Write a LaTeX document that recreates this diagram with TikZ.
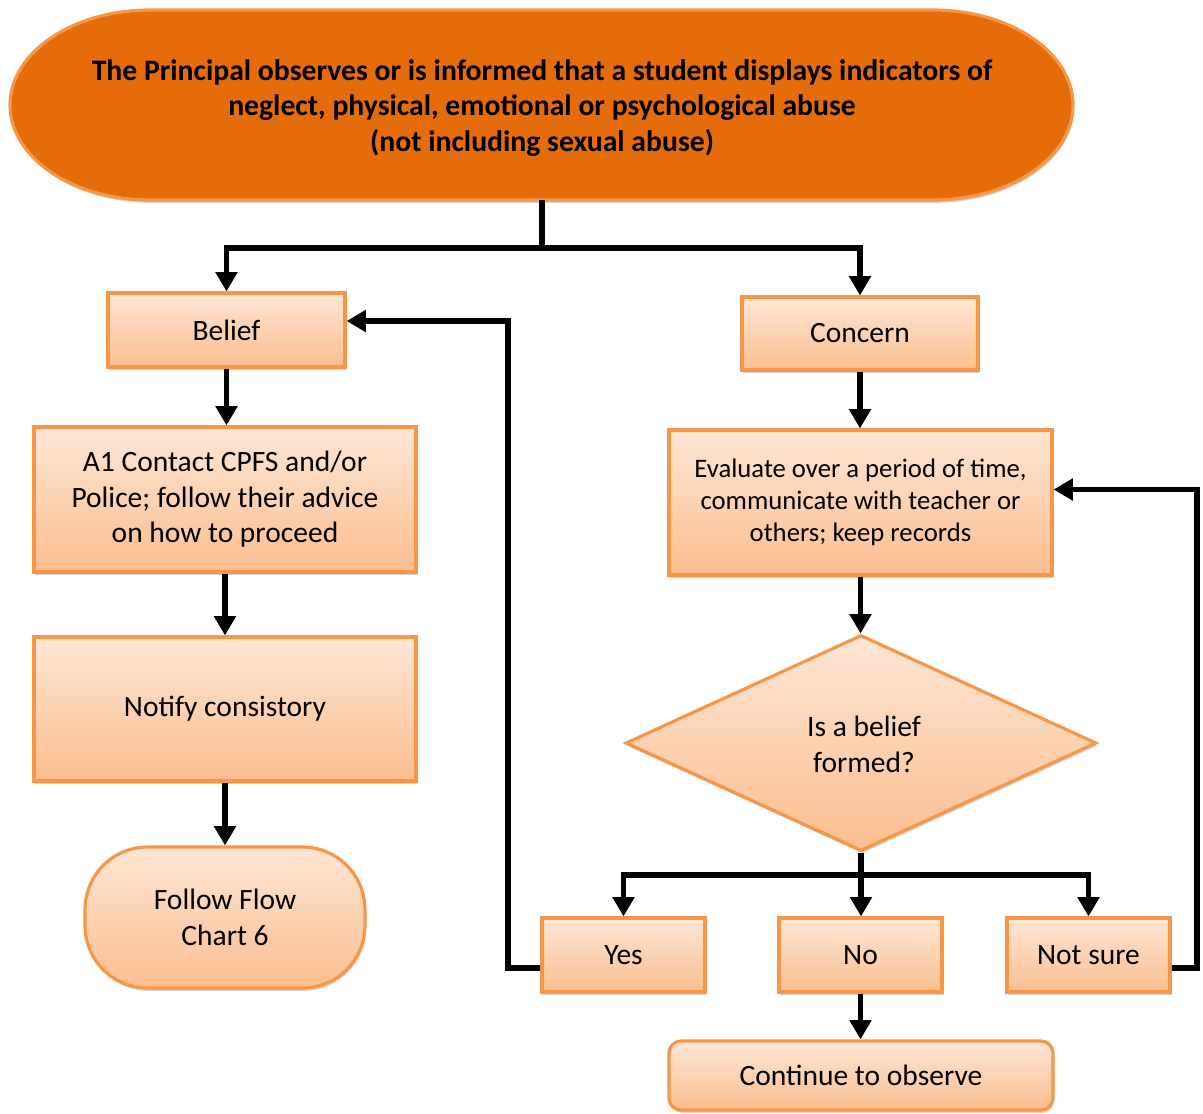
\documentclass[tikz,border=0pt]{standalone}
\usepackage{fontspec}
\setmainfont{Carlito}
\usetikzlibrary{arrows.meta,shapes.geometric,shadows,calc}

\definecolor{termfill}{RGB}{228,108,10}
\definecolor{edgeorange}{RGB}{247,150,70}
\definecolor{lighttop}{RGB}{254,230,213}
\definecolor{lightbot}{RGB}{250,190,143}

\tikzset{
  box/.style={draw=edgeorange, line width=1.8pt, top color=lighttop, bottom color=lightbot,
    align=center, inner sep=2pt, font=\fontsize{16.8}{20.2}\selectfont,
    drop shadow={shadow xshift=0.6pt, shadow yshift=-1.6pt, fill=black, opacity=0.18}},
  wire/.style={draw=black, line width=3.2pt},
  arr/.style={wire, -{Triangle[length=11pt,width=12pt]}},
}

\begin{document}
\begin{tikzpicture}[x=0.02cm, y=-0.02cm]
\useasboundingbox (0,0) rectangle (1203,1113);

% terminator at the top, with elliptical ends
\path[fill=termfill, draw=edgeorange, line width=1.8pt,
      drop shadow={shadow xshift=0.6pt, shadow yshift=-1.6pt, fill=black, opacity=0.18}]
  (150,10) -- (933,10)
  .. controls (1010.3,10) and (1073,52.5) .. (1073,105)
  .. controls (1073,157.5) and (1010.3,200) .. (933,200)
  -- (150,200)
  .. controls (72.7,200) and (10,157.5) .. (10,105)
  .. controls (10,52.5) and (72.7,10) .. cycle;
\node[minimum width=21.26cm, minimum height=3.8cm, inner sep=0pt] (top) at (542,105) {};
\node[align=center, font=\bfseries\fontsize{16.9}{20.4}\selectfont, inner sep=0pt] (toptext) at (542,108)
  {The Principal observes or is informed that a student displays indicators of\\
   neglect, physical, emotional or psychological abuse\\
   (not including sexual abuse)};

% left column
\node[box, minimum width=4.74cm, minimum height=1.48cm] (belief) at (226.5,330) {Belief};
\node[box, minimum width=7.64cm, minimum height=2.9cm] (a1) at (225,499.5)
  {A1 Contact CPFS and/or\\Police; follow their advice\\on how to proceed};
\node[box, minimum width=7.64cm, minimum height=2.88cm] (notify) at (225,709) {Notify consistory};
\node[box, rounded corners=1.25cm, minimum width=5.6cm, minimum height=2.82cm] (follow) at (225,917.5)
  {Follow Flow\\Chart 6};

% right column
\node[box, minimum width=4.72cm, minimum height=1.46cm] (concern) at (860,333.5) {Concern};
\node[box, minimum width=7.66cm, minimum height=2.9cm, font=\fontsize{15.2}{18.4}\selectfont] (evaluate) at (860.5,502.5)
  {Evaluate over a period of time,\\communicate with teacher or\\others; keep records};
\node[box, diamond, inner sep=0pt, minimum width=9.42cm, minimum height=4.32cm] (decide) at (861,743) {};
\node[align=center, font=\fontsize{16.8}{20.4}\selectfont] (decidetext) at (864,744) {Is a belief\\formed?};

\node[box, minimum width=3.26cm, minimum height=1.48cm] (yes) at (623.5,955) {Yes};
\node[box, minimum width=3.26cm, minimum height=1.48cm] (no) at (860.5,955) {No};
\node[box, minimum width=3.26cm, minimum height=1.48cm] (notsure) at (1088.5,955) {Not sure};
\node[box, rounded corners=0.24cm, minimum width=7.68cm, minimum height=1.38cm] (continue) at (861,1075.5)
  {Continue to observe};

% connectors
\coordinate (split1) at (542,248);
\draw[wire] (top.south) -- (split1);
\draw[arr] (split1) -| (belief.north);
\draw[arr] (split1) -| (concern.north);

\draw[arr] (belief.south) -- (belief.south |- a1.north);
\draw[arr] (a1.south) -- (a1.south |- notify.north);
\draw[arr] (notify.south) -- (notify.south |- follow.north);

\draw[arr] (concern.south) -- (concern.south |- evaluate.north);
\draw[arr] (evaluate.south) -- (evaluate.south |- decide.north);

\coordinate (split2) at (861,875);
\draw[wire] (decide.south) -- (split2);
\draw[arr] (split2) -| (yes.north);
\draw[arr] (split2) -- (split2 |- no.north);
\draw[arr] (split2) -| (notsure.north);
\draw[arr] (no.south) -- (no.south |- continue.north);

\coordinate (yesturn) at (508,968);
\draw[arr] ($(yes.west)+(0,13)$) -- (yesturn) |- ($(belief.east)+(0,-9)$);
\coordinate (nsturn) at (1197,968);
\draw[arr] ($(notsure.east)+(0,13)$) -- (nsturn) |- ($(evaluate.east)+(0,-13)$);
\end{tikzpicture}
\end{document}
